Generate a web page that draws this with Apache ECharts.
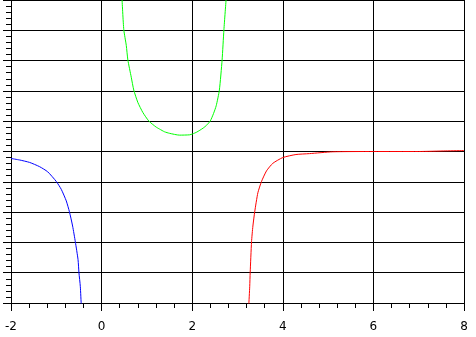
<!DOCTYPE html>
<html><head><meta charset="utf-8">
<script src="https://cdn.jsdelivr.net/npm/echarts@6/dist/echarts.min.js"></script>
<style>html,body{margin:0;padding:0;background:#fff}#c{width:476px;height:337px}</style>
</head><body><div id="c"></div>
<script>
var xTicks = [-2, 0, 2, 4, 6, 8];
var blueX = [-2.0, -1.81, -1.59, -1.37, -1.19, -1.0, -0.89, -0.78, -0.71, -0.64, -0.58, -0.52, -0.50, -0.47, -0.45];
var blueY = [-0.23, -0.28, -0.36, -0.50, -0.67, -0.99, -1.25, -1.63, -1.99, -2.46, -2.98, -3.57, -4.0, -4.45, -5.05];
var greenX = [0.45, 0.49, 0.545, 0.58, 0.655, 0.71, 0.80, 0.91, 1.04, 1.20, 1.28, 1.39, 1.50, 1.72, 1.94, 2.01, 2.10, 2.24, 2.32, 2.40, 2.47, 2.53, 2.60, 2.66, 2.70, 2.75];
var greenY = [5.05, 4.02, 3.50, 3.02, 2.45, 2.03, 1.62, 1.29, 1.01, 0.81, 0.74, 0.65, 0.60, 0.54, 0.55, 0.58, 0.64, 0.77, 0.87, 1.01, 1.25, 1.51, 2.03, 3.02, 4.02, 5.05];
var redX = [3.25, 3.27, 3.28, 3.31, 3.34, 3.38, 3.45, 3.53, 3.64, 3.78, 4.0, 4.29, 4.59, 5.1, 6.0, 7.0, 7.6, 8.0];
var redY = [-5.05, -4.45, -4.0, -2.98, -2.46, -1.99, -1.36, -0.99, -0.64, -0.39, -0.20, -0.10, -0.07, -0.01, 0.0, 0.0, 0.02, 0.03];

function pairs(xs, ys){ return xs.map(function(x,i){ return [x, ys[i]]; }); }

var chart = echarts.init(document.getElementById('c'), null, {renderer:'canvas'});
var black = '#000';
chart.setOption({
  animation: false,
  backgroundColor: '#fff',
  grid: {left: 11, right: 12, top: 0, bottom: 34, containLabel: false},
  xAxis: {
    type: 'value', min: xTicks[0], max: xTicks[xTicks.length-1], interval: 2,
    axisLine: {show: true, onZero: false, lineStyle: {color: black, width: 1}},
    axisTick: {show: true, length: 8, lineStyle: {color: black}},
    minorTick: {show: true, splitNumber: 5, length: 5, lineStyle: {color: black}},
    splitLine: {show: true, lineStyle: {color: black, width: 1}},
    axisLabel: {color: black, fontSize: 12, fontFamily: 'DejaVu Sans', margin: 18}
  },
  yAxis: {
    type: 'value', min: -5, max: 5, interval: 1,
    axisLine: {show: true, onZero: false, lineStyle: {color: black, width: 1}},
    axisTick: {show: true, length: 8, lineStyle: {color: black}},
    minorTick: {show: true, splitNumber: 5, length: 5, lineStyle: {color: black}},
    splitLine: {show: true, lineStyle: {color: black, width: 1}},
    axisLabel: {show: false}
  },
  series: [
    {type: 'line', data: pairs(blueX, blueY), showSymbol: false, symbol: 'none', smooth: 0.2, clip: true, lineStyle: {color: '#0000ff', width: 1}},
    {type: 'line', data: pairs(greenX, greenY), showSymbol: false, symbol: 'none', smooth: 0.2, clip: true, lineStyle: {color: '#00ff00', width: 1}},
    {type: 'line', data: pairs(redX, redY), showSymbol: false, symbol: 'none', smooth: 0.2, clip: true, lineStyle: {color: '#ff0000', width: 1}}
  ]
});
</script>
</body></html>
